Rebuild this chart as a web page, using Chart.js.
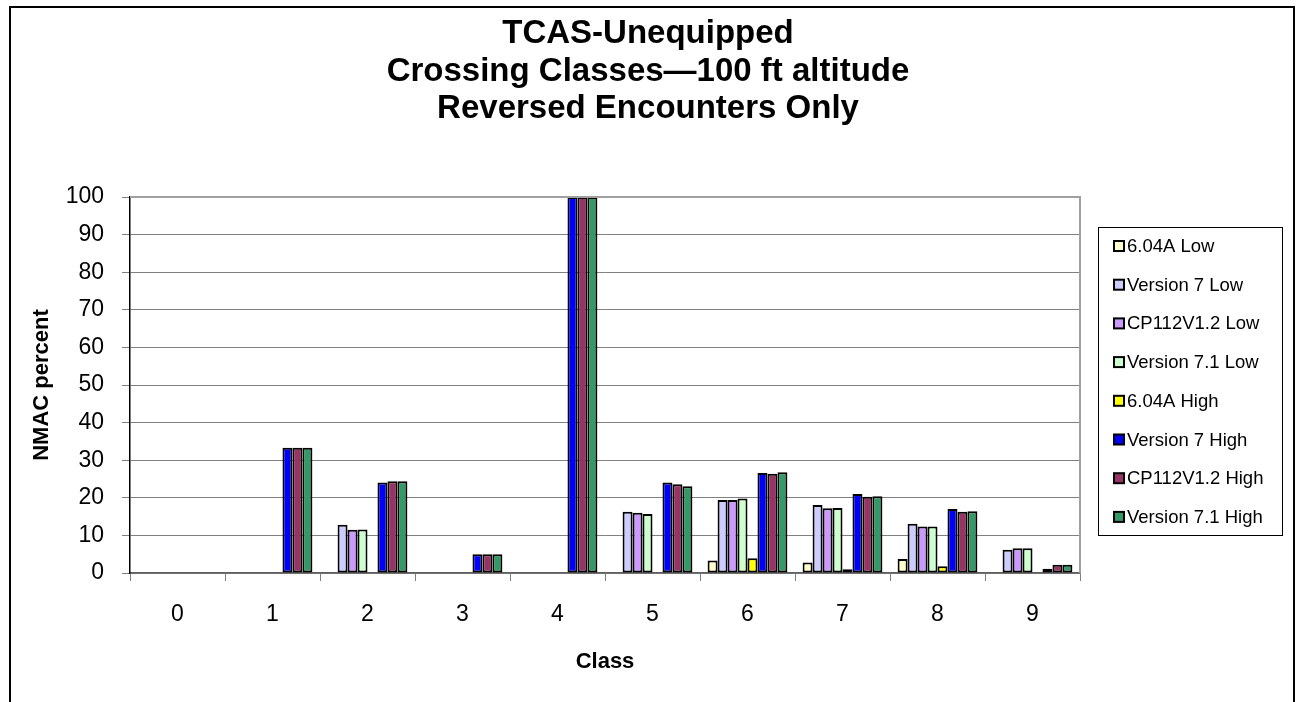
<!DOCTYPE html>
<html>
<head>
<meta charset="utf-8">
<script src="https://cdn.jsdelivr.net/npm/chart.js@4.4.1/dist/chart.umd.min.js"></script>
<style>
html,body{margin:0;padding:0;background:#fff;}
#wrap{width:1296px;height:702px;position:relative;}
</style>
</head>
<body>
<div id="wrap"><canvas id="c" width="1296" height="702"></canvas></div>
<script>
const categories = ['0','1','2','3','4','5','6','7','8','9'];
const seriesNames = ['6.04A Low','Version 7 Low','CP112V1.2 Low','Version 7.1 Low','6.04A High','Version 7 High','CP112V1.2 High','Version 7.1 High'];
const low604  = [null,null,null,null,null,null,3.3,2.8,3.7,null];
const v7Low   = [null,null,12.8,null,null,16.3,19.4,18.1,13.1,6.2];
const cpLow   = [null,null,11.5,null,null,16.0,19.4,17.2,12.4,6.6];
const v71Low  = [null,null,11.6,null,null,15.7,19.8,17.3,12.4,6.6];
const high604 = [null,null,null,null,null,null,3.9,1.0,1.8,null];
const v7High  = [null,33.3,24.1,5.0,100,24.1,26.6,21.0,17.0,1.1];
const cpHigh  = [null,33.3,24.4,5.0,100,23.6,26.4,20.3,16.3,2.2];
const v71High = [null,33.3,24.4,5.0,100,23.1,26.8,20.4,16.4,2.2];
const yTicks = [0,10,20,30,40,50,60,70,80,90,100];
const colors = ['#FFFFCC','#CCCCFF','#CC99FF','#CCFFCC','#FFFF00','#0000FF','#993366','#339966'];
const titleLines = ['TCAS-Unequipped','Crossing Classes\u2014100 ft altitude','Reversed Encounters Only'];

const allSeries = [low604,v7Low,cpLow,v71Low,high604,v7High,cpHigh,v71High];
const FONT = "Arial, 'Liberation Sans', sans-serif";

const datasets = allSeries.map((d,i)=>({
  label: seriesNames[i],
  data: d,
  backgroundColor: colors[i],
  borderColor: '#000',
  borderWidth: 2,
  borderSkipped: false,
  categoryPercentage: 0.84,
  barPercentage: 1.0
}));

const framePlugin = {
  id:'frame',
  beforeDraw(chart){
    const ctx = chart.ctx;
    ctx.save();
    ctx.fillStyle='#fff';
    ctx.fillRect(0,0,chart.width,chart.height);
    ctx.restore();
  },
  afterDraw(chart){
    const ctx = chart.ctx;
    const a = chart.chartArea;
    ctx.save();
    ctx.strokeStyle='#a0a0a0';
    ctx.lineWidth=2;
    ctx.beginPath();
    ctx.moveTo(a.left, a.top);
    ctx.lineTo(a.right, a.top);
    ctx.lineTo(a.right, a.bottom);
    ctx.stroke();
    ctx.strokeStyle='#000';
    ctx.lineWidth=2;
    ctx.strokeRect(10,7,1284,1000);
    ctx.fillStyle='#000';
    ctx.font='bold 33px '+FONT;
    ctx.textAlign='center';
    ctx.textBaseline='middle';
    titleLines.forEach((t,i)=>ctx.fillText(t,648,34+i*37.5));
    const lx=1098, ly=227, lw=184, lh=308;
    ctx.strokeStyle='#000';
    ctx.lineWidth=1;
    ctx.strokeRect(lx+0.5,ly+0.5,lw,lh);
    ctx.font = '18.5px '+FONT;
    ctx.textBaseline='middle';
    ctx.textAlign='left';
    chart.data.datasets.forEach((ds,i)=>{
      const cy = 246 + i*38.7;
      ctx.fillStyle = ds.backgroundColor;
      ctx.fillRect(1114,cy-5,10,10);
      ctx.strokeStyle='#000';
      ctx.lineWidth=2;
      ctx.strokeRect(1114,cy-5,10,10);
      ctx.fillStyle='#000';
      ctx.fillText(ds.label,1127,cy+1);
    });
    ctx.restore();
  }
};

new Chart(document.getElementById('c'),{
  type:'bar',
  data:{labels:categories,datasets},
  plugins:[framePlugin],
  options:{
    responsive:false,
    animation:false,
    devicePixelRatio:1,
    layout:{padding:{left:0,right:216,top:197,bottom:0}},
    plugins:{
      legend:{display:false},
      tooltip:{enabled:false},
      title:{display:false}
    },
    scales:{
      x:{
        grid:{display:true,drawOnChartArea:false,drawTicks:true,tickLength:8,color:'#808080',offset:true},
        border:{display:true,color:'#606060',width:1.5},
        ticks:{color:'#000',font:{family:FONT,size:23},padding:20},
        title:{display:true,text:'Class',color:'#000',font:{family:FONT,size:22,weight:'bold'},padding:{top:0,bottom:27}},
        afterFit(s){s.height=129;}
      },
      y:{
        min:0,max:100,
        afterBuildTicks(s){s.ticks=yTicks.map(v=>({value:v}));},
        grid:{color:'#808080',lineWidth:1,tickLength:8},
        border:{display:true,color:'#000',width:1.5},
        ticks:{color:'#000',font:{family:FONT,size:23},padding:18},
        title:{display:true,text:'NMAC percent',color:'#000',font:{family:FONT,size:22,weight:'bold'},padding:{top:29,bottom:0}},
        afterFit(s){s.width=130;}
      }
    }
  }
});
</script>
</body>
</html>
